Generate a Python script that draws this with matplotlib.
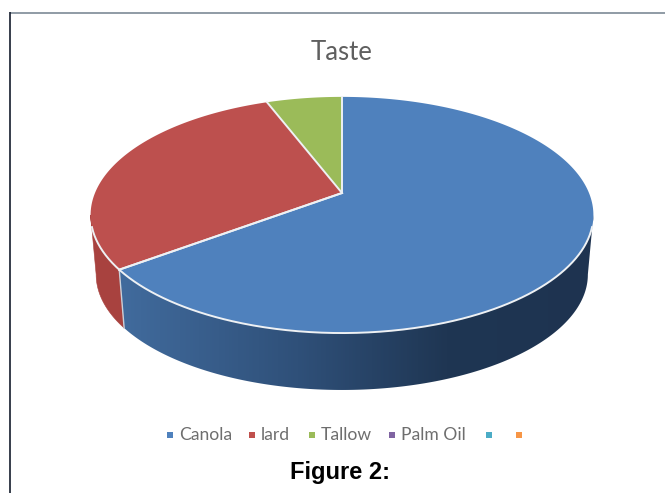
import numpy as np
import matplotlib
matplotlib.use("Agg")
import matplotlib.pyplot as plt
from matplotlib.colors import LinearSegmentedColormap
from matplotlib.patches import Polygon

categories = ["Canola", "lard", "Tallow", "Palm Oil", "", ""]
values = [64.8, 29.4, 5.8, 0, 0, 0]
top_colors = ["#4f81bd", "#bd504e", "#9bbb59", "#8064a2", "#4bacc6", "#f79646"]
legend_colors = ["#4f81bd", "#c0504d", "#9bbb59", "#8064a2", "#4bacc6", "#f79646"]

# disc geometry in figure pixels
cx, cy = 342.0, 193.0
rx, ry, persp = 247.0, 114.0, 0.186
depth, shrink = 60.0, 0.978
tangent = np.arccos(-persp)
rim_color = "#eef1f4"


def rim(theta, scale=1.0, drop=0.0):
    # theta runs clockwise from 12 o'clock, perspective keeps the near side larger
    u, v = np.sin(theta), -np.cos(theta)
    w = 1 - persp * v
    return cx + scale * rx * u / w, cy + drop + scale * ry * v / w


def wall_outline(t0, t1):
    ts = np.linspace(t0, t1, 300)
    xa, ya = rim(ts)
    xb, yb = rim(ts, shrink, depth)
    return np.column_stack([np.r_[xa, xb[::-1]], np.r_[ya, yb[::-1]]])


fig = plt.figure(figsize=(6.65, 4.93), dpi=100)
ax = fig.add_axes([0, 0, 1, 1])

# slide frame
ax.plot([9.5, 665], [12.5, 12.5], color="#7d8a96", lw=1.2, solid_capstyle="butt")
ax.plot([9.5, 9.5], [12, 493], color="#141c2c", lw=1.2, solid_capstyle="butt")

edges = np.cumsum([0] + values) / sum(values) * 2 * np.pi

# side wall first, the top face covers whatever sits behind it
wall_cmap = LinearSegmentedColormap.from_list(
    "wall",
    [(0.0, "#416b9d"), (0.37, "#2f5079"), (0.68, "#1f3653"), (1.0, "#1e3350")],
)
outline = Polygon(wall_outline(tangent, edges[1]), closed=True, facecolor="none", edgecolor="none", transform=ax.transData)
ax.add_patch(outline)
grad = ax.imshow(
    np.linspace(0, 1, 512)[None, :],
    cmap=wall_cmap,
    extent=[120, 600, 400, 200],
    aspect="auto",
    zorder=2,
)
grad.set_clip_path(outline)
ax.add_patch(Polygon(wall_outline(edges[1], 2 * np.pi - tangent), closed=True, facecolor="#a8423f", edgecolor="#a8423f", lw=0.4, zorder=2))

ax.set_xlim(0, 665)
ax.set_ylim(493, 0)
ax.axis("off")

# seam between the two visible wall pieces
xa, ya = rim(edges[1])
xb, yb = rim(edges[1], shrink, depth)
ax.plot([xa, xb], [ya, yb], color="#c9d1db", lw=1.0, zorder=3)

for i, val in enumerate(values):
    if val == 0:
        continue
    xs, ys = rim(np.linspace(edges[i], edges[i + 1], 400))
    ax.fill(np.r_[cx, xs], np.r_[cy, ys], facecolor=top_colors[i], edgecolor="none", zorder=4)
    # spokes between the slices
    ax.plot([cx, xs[0]], [cy, ys[0]], color=rim_color, lw=1.4, zorder=5)

xs, ys = rim(edges[1])
ax.plot([cx, xs], [cy, ys], color=rim_color, lw=1.4, zorder=5)

# light rim only along the near side
xs, ys = rim(np.linspace(tangent + 0.1, 2 * np.pi - tangent - 0.1, 400))
ax.plot(xs, ys, color=rim_color, lw=1.4, zorder=5)

ax.text(342, 52, "Taste", family="Lato", fontsize=18.5, color="#5f5f5f", ha="center", va="center")

# legend row
marker_x = [170, 252, 312, 392, 489, 519]
for name, col, mx in zip(categories, legend_colors, marker_x):
    ax.scatter([mx], [435], marker="s", s=24, color=col, linewidths=0)
    if name:
        ax.text(mx + 9, 435, name, family="Lato", fontsize=12.6, color="#6e6e6e", va="center", ha="left")

ax.text(340, 473, "Figure 2:", family="Liberation Sans", fontsize=17, fontweight="bold", color="black", ha="center", va="center")

fig.savefig("out.png", dpi=100)
